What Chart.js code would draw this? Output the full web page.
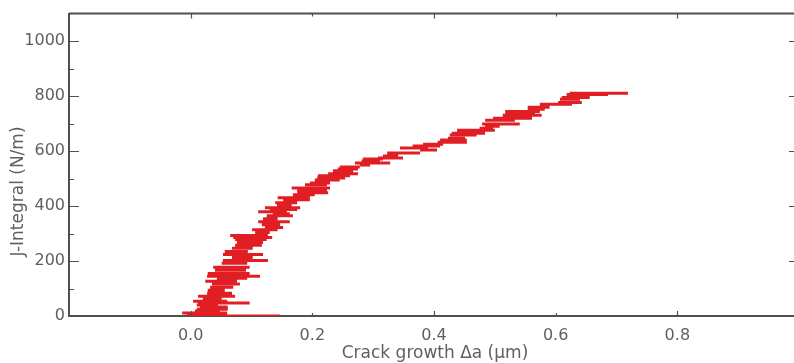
<!DOCTYPE html>
<html><head><meta charset="utf-8">
<script src="https://cdn.jsdelivr.net/npm/chart.js@4.4.1/dist/chart.umd.min.js"></script>
<style>
html,body{margin:0;padding:0;background:#fff;overflow:hidden;width:794px;height:363px}
#wrap{width:800px;height:363px;position:relative}
</style></head><body>
<div id="wrap"><canvas id="c" width="800" height="363"></canvas></div>
<script>
// J-integral values (N/m) for each measured trace step
const jIntegral = [0,4,11,18,25,33,40,47,54,65,72,83,94,105,116,126,137,145,155,166,177,192,202,213,224,235,246,257,267,278,286,293,304,314,322,332,343,354,365,372,379,387,394,405,412,423,430,441,448,459,466,477,484,495,502,510,517,528,535,542,549,557,564,571,575,582,593,604,611,618,625,632,640,647,658,665,676,683,690,698,712,719,730,737,744,752,759,770,777,788,795,806,810];
// crack growth, lower end of each step (µm)
const growthMin = [0.004,-0.006,-0.014,0.007,0.010,0.015,0.010,0.012,0.004,0.020,0.012,0.027,0.028,0.032,0.035,0.024,0.043,0.027,0.028,0.040,0.037,0.051,0.053,0.068,0.053,0.056,0.068,0.073,0.076,0.073,0.070,0.065,0.106,0.101,0.122,0.117,0.111,0.119,0.125,0.135,0.111,0.130,0.122,0.142,0.139,0.152,0.143,0.168,0.175,0.175,0.166,0.188,0.196,0.204,0.208,0.209,0.226,0.234,0.242,0.245,0.278,0.270,0.281,0.283,0.308,0.316,0.323,0.377,0.344,0.365,0.382,0.406,0.410,0.423,0.426,0.429,0.438,0.475,0.484,0.479,0.484,0.497,0.513,0.517,0.517,0.554,0.554,0.574,0.604,0.607,0.610,0.618,0.623];
// crack growth, upper end of each step (µm)
const growthMax = [0.147,0.028,0.060,0.048,0.061,0.061,0.045,0.097,0.060,0.051,0.073,0.068,0.056,0.070,0.081,0.076,0.093,0.114,0.097,0.091,0.097,0.093,0.127,0.102,0.119,0.094,0.102,0.117,0.119,0.125,0.134,0.127,0.130,0.143,0.152,0.147,0.163,0.143,0.168,0.163,0.158,0.175,0.180,0.166,0.175,0.196,0.196,0.204,0.226,0.224,0.229,0.224,0.229,0.245,0.254,0.262,0.275,0.267,0.275,0.278,0.295,0.328,0.311,0.316,0.349,0.341,0.377,0.405,0.390,0.410,0.415,0.454,0.454,0.451,0.470,0.484,0.500,0.497,0.508,0.541,0.533,0.561,0.577,0.566,0.574,0.582,0.590,0.627,0.643,0.640,0.656,0.686,0.719];

const xTickValues = [0, 0.2, 0.4, 0.6, 0.8];
const yTickValues = [0, 200, 400, 600, 800, 1000];
const yMinorValues = [100, 300, 500, 700, 900];
const xTitle = 'Crack growth \u0394a (\u03bcm)';
const yTitle = 'J-Integral (N/m)';

// each step is drawn as its own horizontal stroke (gap between strokes)
const points = [];
for (let i = 0; i < jIntegral.length; i++) {
  const j = jIntegral[i];
  points.push({x: growthMin[i], y: j}, {x: growthMax[i], y: j});
  points.push({x: growthMax[i], y: null});
}

const AXIS = '#505050';
const TEXT = '#606060';
const FONT = 'DejaVu Sans';

const framePlugin = {
  id: 'frame',
  afterDraw(chart) {
    const {ctx, chartArea: ca, scales: {x, y}} = chart;
    ctx.save();
    ctx.strokeStyle = AXIS;
    ctx.lineWidth = 2;
    ctx.beginPath();
    ctx.moveTo(ca.left, ca.top); ctx.lineTo(ca.right, ca.top);
    ctx.moveTo(ca.right, ca.top); ctx.lineTo(ca.right, ca.bottom);
    ctx.stroke();
    ctx.lineWidth = 1.2;
    ctx.beginPath();
    yTickValues.forEach(v => {
      const p = Math.round(y.getPixelForValue(v)) + 0.5;
      ctx.moveTo(ca.left, p); ctx.lineTo(ca.left + 10, p);
      ctx.moveTo(ca.right, p); ctx.lineTo(ca.right - 10, p);
    });
    yMinorValues.forEach(v => {
      const p = Math.round(y.getPixelForValue(v)) + 0.5;
      ctx.moveTo(ca.left, p); ctx.lineTo(ca.left + 5, p);
      ctx.moveTo(ca.right, p); ctx.lineTo(ca.right - 5, p);
    });
    xTickValues.forEach((v, i) => {
      const p = Math.round(x.getPixelForValue(v)) + 0.5;
      const len = i % 2 === 0 ? 5 : 3;
      ctx.moveTo(p, ca.bottom); ctx.lineTo(p, ca.bottom - len);
      ctx.moveTo(p, ca.top); ctx.lineTo(p, ca.top + len);
    });
    ctx.stroke();
    // axis titles
    ctx.fillStyle = TEXT;
    ctx.font = '17px "' + FONT + '"';
    ctx.textAlign = 'center';
    ctx.textBaseline = 'alphabetic';
    ctx.fillText(xTitle, 435, 358);
    ctx.translate(23, 191.5);
    ctx.rotate(-Math.PI / 2);
    ctx.fillText(yTitle, 0, 0);
    ctx.restore();
  }
};

new Chart(document.getElementById('c'), {
  type: 'scatter',
  data: {
    datasets: [{
      data: points,
      showLine: true,
      spanGaps: false,
      borderColor: 'rgb(226,30,37)',
      backgroundColor: 'rgb(226,30,37)',
      borderWidth: 3,
      borderCapStyle: 'butt',
      pointRadius: 0,
      tension: 0
    }]
  },
  options: {
    responsive: false,
    animation: false,
    events: [],
    layout: {padding: {top: 12, right: 1, left: 0, bottom: 0}},
    plugins: {legend: {display: false}, tooltip: {enabled: false}, title: {display: false}},
    scales: {
      x: {
        type: 'linear', min: -0.2, max: 1.0,
        afterBuildTicks: s => { s.ticks = xTickValues.map(v => ({value: v})); },
        afterFit: s => { s.height = 47; },
        grid: {display: false, drawTicks: false},
        border: {display: true, color: AXIS, width: 2},
        ticks: {color: TEXT, font: {family: FONT, size: 16}, padding: 10, maxRotation: 0,
          callback: v => Number(v).toFixed(1)}
      },
      y: {
        type: 'linear', min: 0, max: 1100,
        afterBuildTicks: s => { s.ticks = yTickValues.map(v => ({value: v})); },
        afterFit: s => { s.width = 69; },
        grid: {display: false, drawTicks: false},
        border: {display: true, color: AXIS, width: 2},
        ticks: {color: TEXT, font: {family: FONT, size: 16}, padding: 4,
          callback: v => String(v)}
      }
    }
  },
  plugins: [framePlugin]
});
</script>
</body></html>
